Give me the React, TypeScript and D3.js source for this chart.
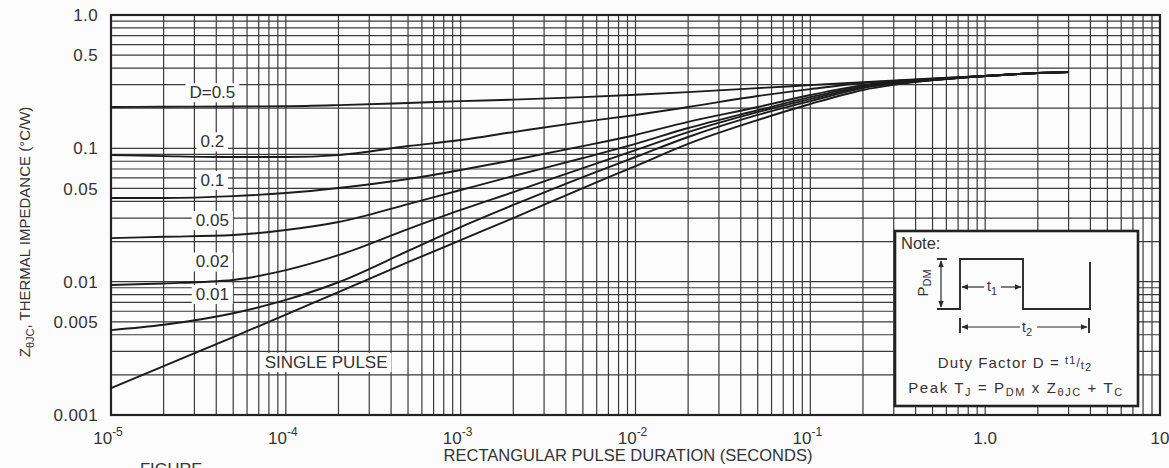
import React, { useEffect, useRef } from 'react';
import * as d3 from 'd3';

// pulse durations (s) where the curves were read
const durations = [1e-5, 2e-5, 5e-5, 1e-4, 2e-4, 5e-4, 1e-3, 2e-3, 5e-3, 1e-2, 2e-2, 5e-2, 1e-1, 2e-1, 5e-1, 1, 2, 3];

// Z thetaJC (°C/W) per duty factor
const d50 = [0.204, 0.205, 0.206, 0.207, 0.211, 0.219, 0.226, 0.232, 0.242, 0.252, 0.264, 0.283, 0.298, 0.314, 0.334, 0.349, 0.367, 0.373];
const d20 = [0.089, 0.0874, 0.086, 0.086, 0.089, 0.104, 0.1154, 0.1324, 0.158, 0.178, 0.204, 0.247, 0.278, 0.309, 0.331, 0.349, 0.367, 0.373];
const d10 = [0.0424, 0.0424, 0.0438, 0.0462, 0.0504, 0.0589, 0.0688, 0.0817, 0.104, 0.126, 0.158, 0.204, 0.251, 0.298, 0.331, 0.349, 0.367, 0.373];
const d05 = [0.0212, 0.0217, 0.0224, 0.0244, 0.028, 0.0382, 0.0487, 0.062, 0.0846, 0.108, 0.142, 0.193, 0.242, 0.293, 0.325, 0.349, 0.367, 0.373];
const d02 = [0.00944, 0.0097, 0.0103, 0.0122, 0.0158, 0.0248, 0.0345, 0.047, 0.0711, 0.097, 0.1325, 0.187, 0.234, 0.288, 0.325, 0.349, 0.367, 0.373];
const d01 = [0.00433, 0.00475, 0.0058, 0.0073, 0.0099, 0.017, 0.0257, 0.0376, 0.0609, 0.0861, 0.1216, 0.178, 0.226, 0.283, 0.325, 0.349, 0.367, 0.373];
const single = [0.00159, 0.00233, 0.00384, 0.00567, 0.00836, 0.014, 0.0205, 0.03, 0.0504, 0.0736, 0.108, 0.163, 0.215, 0.274, 0.325, 0.349, 0.367, 0.373];

const series = [d50, d20, d10, d05, d02, d01, single];

// curve labels and where they sit (data coords)
const curveLabels = ['D=0.5', '0.2', '0.1', '0.05', '0.02', '0.01', 'SINGLE PULSE'];
const labelT = [3.8e-5, 3.8e-5, 3.8e-5, 3.8e-5, 3.8e-5, 3.8e-5, 1.7e-4];
const labelZ = [0.264, 0.113, 0.058, 0.029, 0.0142, 0.0081, 0.0025];

const yTicks = [1, 0.5, 0.1, 0.05, 0.01, 0.005, 0.001];
const yTickLabels = ['1.0', '0.5', '0.1', '0.05', '0.01', '0.005', '0.001'];
const xTicks = [1e-5, 1e-4, 1e-3, 1e-2, 1e-1, 1, 10];
const xTickBase = ['10', '10', '10', '10', '10', '1.0', '10'];
const xTickExp = ['-5', '-4', '-3', '-2', '-1', '', ''];

const FONT = '"Liberation Sans", Arial, sans-serif';
const INK = '#2a2a2a';
const TXT = '#333';

const App: React.FC = () => {
  const svgRef = useRef<SVGSVGElement>(null);

  useEffect(() => {
    if (!svgRef.current) return;
    const svg = d3.select(svgRef.current);
    svg.selectAll('*').remove();

    const left = 111, right = 1160, top = 15, bottom = 415;
    const x = d3.scaleLog().domain([1e-5, 10]).range([left, right]);
    const y = d3.scaleLog().domain([0.001, 1]).range([bottom, top]);

    svg.append('rect').attr('width', 1169).attr('height', 468).attr('fill', '#fcfcfc');

    // log grid
    const xGrid: number[] = [];
    for (let e = -5; e <= 0; e++) for (let k = 1; k <= 9; k++) xGrid.push(k * Math.pow(10, e));
    xGrid.push(10);
    const yGrid: number[] = [];
    for (let e = -3; e <= -1; e++) for (let k = 1; k <= 9; k++) yGrid.push(k * Math.pow(10, e));
    yGrid.push(1);

    const grid = svg.append('g').attr('stroke', '#3a3a3a').attr('stroke-width', 1.2);
    grid.selectAll('line.v').data(xGrid).join('line')
      .attr('class', 'v')
      .attr('x1', d => x(d)).attr('x2', d => x(d))
      .attr('y1', top).attr('y2', bottom);
    grid.selectAll('line.h').data(yGrid).join('line')
      .attr('class', 'h')
      .attr('y1', d => y(d)).attr('y2', d => y(d))
      .attr('x1', left).attr('x2', right);

    // frame
    svg.append('rect')
      .attr('x', left).attr('y', top)
      .attr('width', right - left).attr('height', bottom - top)
      .attr('fill', 'none').attr('stroke', '#222').attr('stroke-width', 2.2);

    // curves
    const line = d3.line<number>()
      .x((_, i) => x(durations[i]))
      .y(d => y(d))
      .curve(d3.curveMonotoneX);

    svg.append('g').selectAll('path').data(series).join('path')
      .attr('d', d => line(d) as string)
      .attr('fill', 'none')
      .attr('stroke', '#1c1c1c')
      .attr('stroke-width', 1.9);

    // curve labels with white backing
    const lbl = svg.append('g');
    curveLabels.forEach((txt, i) => {
      const t = lbl.append('text')
        .attr('x', x(labelT[i]))
        .attr('y', y(labelZ[i]))
        .attr('dy', '0.36em')
        .attr('text-anchor', 'middle')
        .attr('font-family', FONT)
        .attr('font-size', 17)
        .attr('fill', TXT)
        .text(txt);
      const bb = (t.node() as SVGTextElement).getBBox();
      lbl.insert('rect', 'text')
        .attr('x', bb.x - 4).attr('y', bb.y)
        .attr('width', bb.width + 8).attr('height', bb.height)
        .attr('fill', '#fcfcfc');
    });

    // y tick labels
    svg.append('g').selectAll('text').data(yTicks).join('text')
      .attr('x', 98)
      .attr('y', d => y(d))
      .attr('dy', '0.36em')
      .attr('text-anchor', 'end')
      .attr('font-family', FONT)
      .attr('font-size', 17)
      .attr('letter-spacing', 0.4)
      .attr('fill', TXT)
      .text((_, i) => yTickLabels[i]);

    // x tick labels
    const xt = svg.append('g');
    xTicks.forEach((v, i) => {
      const t = xt.append('text')
        .attr('x', x(v) + (xTickExp[i] ? -3 : 0))
        .attr('y', 444)
        .attr('text-anchor', 'middle')
        .attr('font-family', FONT)
        .attr('font-size', 17)
        .attr('fill', TXT);
      t.append('tspan').text(xTickBase[i]);
      if (xTickExp[i]) t.append('tspan').attr('dy', -8).attr('font-size', 12).text(xTickExp[i]);
    });

    // axis titles
    svg.append('text')
      .attr('x', 628).attr('y', 461)
      .attr('text-anchor', 'middle')
      .attr('font-family', FONT).attr('font-size', 16.5).attr('fill', TXT)
      .text('RECTANGULAR PULSE DURATION (SECONDS)');

    const yt = svg.append('text')
      .attr('transform', 'translate(30,232) rotate(-90)')
      .attr('text-anchor', 'middle')
      .attr('font-family', FONT).attr('font-size', 15).attr('fill', TXT);
    yt.append('tspan').text('Z');
    yt.append('tspan').attr('dy', 4).attr('font-size', 11).text('θJC');
    yt.append('tspan').attr('dy', -4).text(', THERMAL IMPEDANCE (°C/W)');

    // caption, cut off at the bottom of the scan
    svg.append('text')
      .attr('x', 140).attr('y', 475)
      .attr('font-family', FONT).attr('font-size', 16.5).attr('fill', TXT)
      .text('FIGURE');

    // note box
    const bx = 895, by = 231, bw = 243, bh = 175;
    const note = svg.append('g');
    note.append('rect')
      .attr('x', bx).attr('y', by).attr('width', bw).attr('height', bh)
      .attr('fill', '#fcfcfc').attr('stroke', '#222').attr('stroke-width', 2.6);
    const nt = (tx: number, ty: number, size = 13) => note.append('text')
      .attr('x', tx).attr('y', ty)
      .attr('font-family', FONT).attr('font-size', size).attr('fill', TXT);
    nt(bx + 6, by + 18, 16.5).text('Note:');

    const ink = note.append('g').attr('stroke', INK).attr('stroke-width', 1.9).attr('fill', 'none');
    // pulse waveform
    ink.append('path').attr('d', `M${bx + 42},${by + 78} H${bx + 65} V${by + 28} H${bx + 128} V${by + 78} H${bx + 195} V${by + 31}`);
    ink.append('path').attr('d', `M${bx + 42},${by + 28} H${bx + 52}`);

    const defs = svg.append('defs');
    defs.append('marker')
      .attr('id', 'arr').attr('viewBox', '0 0 10 10')
      .attr('refX', 9).attr('refY', 5)
      .attr('markerWidth', 6).attr('markerHeight', 6)
      .attr('orient', 'auto-start-reverse')
      .append('path').attr('d', 'M0,1 L10,5 L0,9 z').attr('fill', INK);
    const thin = note.append('g').attr('stroke', INK).attr('stroke-width', 1.2).attr('fill', 'none');
    // PDM arrow
    thin.append('line').attr('x1', bx + 46).attr('x2', bx + 46).attr('y1', by + 30).attr('y2', by + 76)
      .attr('marker-start', 'url(#arr)').attr('marker-end', 'url(#arr)');
    // t1 arrows
    thin.append('line').attr('x1', bx + 67).attr('x2', bx + 89).attr('y1', by + 56).attr('y2', by + 56).attr('marker-start', 'url(#arr)');
    thin.append('line').attr('x1', bx + 106).attr('x2', bx + 126).attr('y1', by + 56).attr('y2', by + 56).attr('marker-end', 'url(#arr)');
    // t2 arrows
    ink.append('line').attr('x1', bx + 65).attr('x2', bx + 65).attr('y1', by + 87).attr('y2', by + 102);
    ink.append('line').attr('x1', bx + 194).attr('x2', bx + 194).attr('y1', by + 87).attr('y2', by + 102);
    thin.append('line').attr('x1', bx + 67).attr('x2', bx + 125).attr('y1', by + 96).attr('y2', by + 96).attr('marker-start', 'url(#arr)');
    thin.append('line').attr('x1', bx + 142).attr('x2', bx + 192).attr('y1', by + 96).attr('y2', by + 96).attr('marker-end', 'url(#arr)');

    const t1 = nt(bx + 92, by + 60, 14);
    t1.append('tspan').text('t');
    t1.append('tspan').attr('dy', 4).attr('font-size', 11).text('1');
    const t2 = nt(bx + 127, by + 101, 14);
    t2.append('tspan').text('t');
    t2.append('tspan').attr('dy', 4).attr('font-size', 11).text('2');

    note.append('text')
      .attr('transform', `translate(${bx + 33},${by + 52}) rotate(-90)`)
      .attr('text-anchor', 'middle')
      .attr('font-family', FONT).attr('font-size', 15).attr('fill', TXT)
      .call(s => {
        s.append('tspan').text('P');
        s.append('tspan').attr('dy', 3).attr('font-size', 11).text('DM');
      });

    const duty = nt(bx + 120, by + 137, 15).attr('text-anchor', 'middle').attr('letter-spacing', 1.1);
    duty.append('tspan').text('Duty Factor  D = ');
    duty.append('tspan').attr('dy', -4).attr('font-size', 11).text('t');
    duty.append('tspan').attr('font-size', 11).text('1');
    duty.append('tspan').attr('dy', 3).attr('font-size', 12).text('/');
    duty.append('tspan').attr('dy', 2).attr('font-size', 11).text('t');
    duty.append('tspan').attr('dy', 2).attr('font-size', 11).text('2');

    const peak = nt(bx + 121, by + 162, 15).attr('text-anchor', 'middle').attr('letter-spacing', 1.6);
    peak.append('tspan').text('Peak T');
    peak.append('tspan').attr('dy', 3).attr('font-size', 11).text('J');
    peak.append('tspan').attr('dy', -3).text(' = P');
    peak.append('tspan').attr('dy', 3).attr('font-size', 11).text('DM');
    peak.append('tspan').attr('dy', -3).text(' x Z');
    peak.append('tspan').attr('dy', 3).attr('font-size', 11).text('θJC');
    peak.append('tspan').attr('dy', -3).text(' + T');
    peak.append('tspan').attr('dy', 3).attr('font-size', 11).text('C');
  }, []);

  return (
    <svg
      ref={svgRef}
      width={1169}
      height={468}
      style={{ position: 'absolute', left: 0, top: 0, background: '#fcfcfc' }}
    />
  );
};

export default App;
